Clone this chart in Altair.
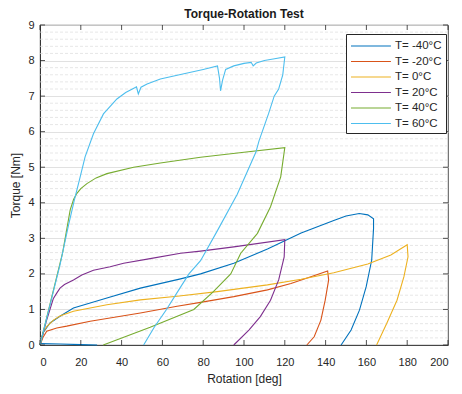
import altair as alt
import pandas as pd

series_names = ["T= -40°C", "T= -20°C", "T= 0°C", "T= 20°C", "T= 40°C", "T= 60°C"]
colors = ["#0072BD", "#D95319", "#EDB120", "#7E2F8E", "#77AC30", "#4DBEEE"]

# T = -40 °C
m40_rot = [0, 1.6, 4.9, 9.8, 16.4, 32.8, 49.2, 68.9, 78.7, 95, 111.5, 128, 144, 150, 156.5, 160.7, 163.5,
           163.5, 162.6, 159.9, 156.6, 152.5, 147.6]
m40_trq = [0, 0.35, 0.62, 0.81, 1.04, 1.32, 1.6, 1.86, 2.0, 2.3, 2.7, 3.15, 3.5, 3.63, 3.7, 3.66, 3.55,
           3.28, 2.39, 1.64, 0.98, 0.42, 0]
# near-zero return segment
m40b_rot = [0, 10, 20, 28]
m40b_trq = [0.04, 0.03, 0.01, 0]

# T = -20 °C
m20_rot = [0, 1.5, 3.3, 8.2, 13.1, 24.6, 49.2, 67.2, 78.7, 95, 111.5, 123, 132.8, 141,
           141.5, 139.8, 137.7, 134.4, 130.8]
m20_trq = [0, 0.22, 0.39, 0.48, 0.53, 0.67, 0.9, 1.09, 1.2, 1.36, 1.55, 1.73, 1.92, 2.08,
           1.83, 1.26, 0.7, 0.23, 0]

# T = 0 °C
p0_rot = [0, 1.5, 3.3, 6.6, 10, 16.4, 32.8, 49.2, 67.2, 86.9, 111.5, 128, 144, 160.7, 172, 180,
          180.4, 178.4, 175, 170, 165]
p0_trq = [0, 0.35, 0.52, 0.7, 0.82, 0.95, 1.13, 1.27, 1.37, 1.5, 1.69, 1.85, 2.03, 2.28, 2.53, 2.82,
          2.48, 1.92, 1.26, 0.61, 0]

# T = 20 °C
p20_rot = [0, 3, 6.5, 8.2, 9.8, 12, 16.4, 20.5, 26.2, 34.4, 41, 54, 68.9, 78.7, 95, 120,
           119.7, 117, 113, 108, 102.4, 95]
p20_trq = [0, 0.65, 1.3, 1.46, 1.6, 1.7, 1.83, 1.97, 2.1, 2.2, 2.3, 2.43, 2.58, 2.64, 2.76, 2.96,
           2.48, 1.83, 1.26, 0.8, 0.42, 0]

# T = 40 °C
p40_rot = [0, 6.2, 11.1, 14.8, 16.5, 18, 20, 23, 27.5, 32.8, 45.9, 59, 78.7, 100, 120,
           118, 113, 106.6, 98.4, 93.5, 85, 75.4, 54, 31]
p40_trq = [0, 1.45, 2.6, 3.8, 4.1, 4.26, 4.4, 4.54, 4.7, 4.82, 5.0, 5.12, 5.28, 5.42, 5.55,
           4.73, 3.89, 3.14, 2.58, 2.0, 1.5, 1.0, 0.5, 0]

# T = 60 °C
p60_rot = [0, 5, 9.8, 13.9, 16.8, 19.3, 22.1, 26.2, 31.1, 37.7, 42, 46, 47.3, 48.2, 49.5, 52.5, 59, 70, 80,
           87, 88, 88.5, 89.5, 91, 95, 100, 103.5, 104.5, 106, 110, 115, 120,
           119, 117, 114.8, 112, 107.4, 105.8, 96.7, 86.9, 78.7, 73, 67.5, 62, 56, 50.8]
p60_trq = [0, 1.15, 2.25, 3.35, 4.07, 4.64, 5.29, 5.94, 6.5, 6.92, 7.1, 7.22, 7.26, 7.06, 7.25, 7.34, 7.48, 7.62, 7.75,
           7.85, 7.5, 7.15, 7.45, 7.75, 7.85, 7.92, 7.95, 7.85, 7.93, 8.0, 8.05, 8.1,
           7.6, 7.2, 7.0, 6.5, 5.75, 5.42, 4.24, 3.21, 2.37, 2.0, 1.5, 1.0, 0.5, 0]

x_ticks = [0, 20, 40, 60, 80, 100, 120, 140, 160, 180, 200]
y_ticks = [0, 1, 2, 3, 4, 5, 6, 7, 8, 9]
y_minor = [round(a + b, 1) for a in range(9) for b in (0.2, 0.4, 0.6, 0.8)]

groups = [
    (series_names[0], "a", m40_rot, m40_trq),
    (series_names[0], "b", m40b_rot, m40b_trq),
    (series_names[1], "a", m20_rot, m20_trq),
    (series_names[2], "a", p0_rot, p0_trq),
    (series_names[3], "a", p20_rot, p20_trq),
    (series_names[4], "a", p40_rot, p40_trq),
    (series_names[5], "a", p60_rot, p60_trq),
]
rows = []
for name, seg, xs, ys in groups:
    for i, (xv, yv) in enumerate(zip(xs, ys)):
        rows.append({"series": name, "seg": name + seg, "i": i, "rot": xv, "trq": yv})
df = pd.DataFrame(rows)

W, H = 408, 320
font = "Liberation Sans"
xscale = alt.Scale(domain=[0, 200], nice=False)
yscale = alt.Scale(domain=[0, 9], nice=False)

x_axis = alt.Axis(values=x_ticks, grid=False, ticks=False, labelPadding=11,
                  titlePadding=6, labelFontSize=11, titleFontSize=12,
                  titleFontWeight="normal", labelOverlap=False)
y_axis = alt.Axis(values=y_ticks, grid=True, gridColor="#d9d9d9", gridWidth=0.8,
                  ticks=False, labelPadding=6, titlePadding=5, labelFontSize=11,
                  titleFontSize=12, titleFontWeight="normal", labelOverlap=False)
XT = "Rotation [deg]"
YT = "Torque [Nm]"

minor = alt.Chart(pd.DataFrame({"v": y_minor})).mark_rule(
    color="#dcdcdc", strokeDash=[3, 2], strokeWidth=0.7
).encode(y=alt.Y("v:Q", scale=yscale, axis=y_axis, title=YT))

lines = alt.Chart(df).mark_line(strokeWidth=1.1).encode(
    x=alt.X("rot:Q", scale=xscale, title=XT, axis=x_axis),
    y=alt.Y("trq:Q", scale=yscale, title=YT, axis=y_axis),
    color=alt.Color("series:N", scale=alt.Scale(domain=series_names, range=colors),
                    sort=series_names,
                    legend=alt.Legend(title=None, orient="none", legendX=306, legendY=9,
                                      symbolType="M-1,0H4.7", symbolSize=196,
                                      symbolStrokeWidth=1.2, labelFontSize=11.5,
                                      labelFont=font, labelColor="#262626",
                                      strokeColor="#262626", fillColor="white",
                                      padding=4, rowPadding=1.5, labelOffset=29)),
    detail="seg:N",
    order="i:Q",
)

tick_len = 5
xt = pd.DataFrame({"v": x_ticks})
yt = pd.DataFrame({"v": y_ticks})
tick_style = dict(color="#262626", strokeWidth=0.8)
xenc = alt.X("v:Q", scale=xscale, title=XT, axis=x_axis)
yenc = alt.Y("v:Q", scale=yscale, title=YT, axis=y_axis)
xb = alt.Chart(xt).mark_rule(**tick_style).encode(
    x=xenc, y=alt.value(H), y2=alt.value(H - tick_len))
xtp = alt.Chart(xt).mark_rule(**tick_style).encode(
    x=xenc, y=alt.value(0), y2=alt.value(tick_len))
yl = alt.Chart(yt).mark_rule(**tick_style).encode(
    y=yenc, x=alt.value(0), x2=alt.value(tick_len))
yr = alt.Chart(yt).mark_rule(**tick_style).encode(
    y=yenc, x=alt.value(W), x2=alt.value(W - tick_len))

chart = alt.layer(minor, lines, xb, xtp, yl, yr).properties(
    width=W, height=H,
    title=alt.TitleParams("Torque-Rotation Test", fontSize=12, fontWeight="bold",
                          font=font, color="#1a1a1a", anchor="middle", offset=-2),
    autosize=alt.AutoSizeParams(type="none"),
    padding={"left": 40, "top": 25, "right": 14, "bottom": 49},
).configure_axis(
    labelFont=font, titleFont=font, labelColor="#262626", titleColor="#262626",
    domainColor="#262626", domainWidth=0.8,
).configure_view(stroke="#262626", strokeWidth=0.8)

chart.save("out.html", embed_options={"renderer": "svg", "actions": False})
